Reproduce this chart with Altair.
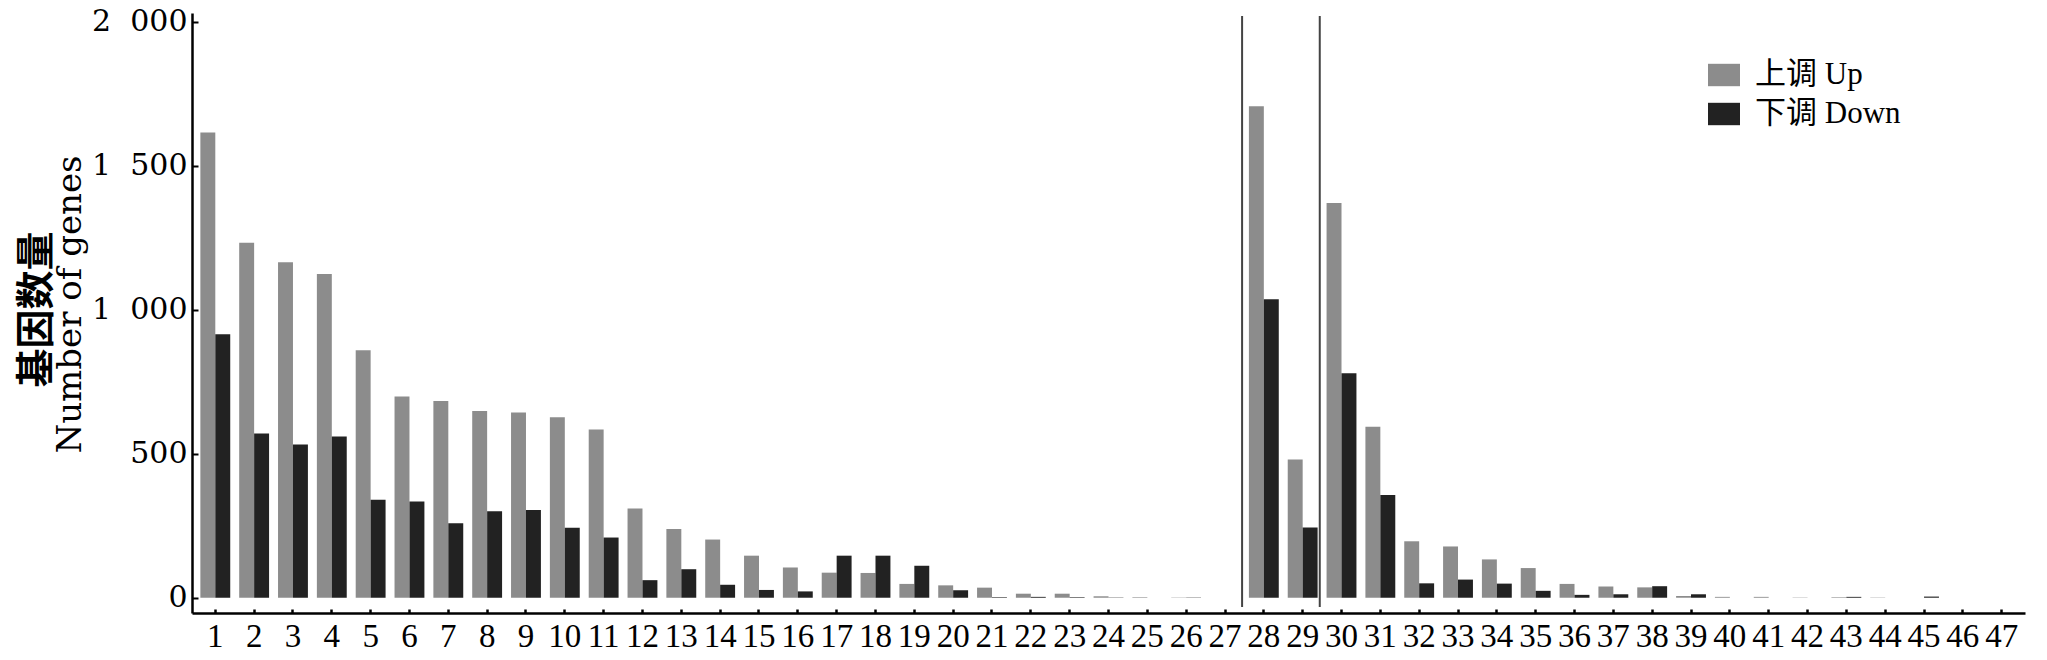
import altair as alt
import pandas as pd

categories = list(range(1, 48))
up_values = [1615, 1232, 1165, 1124, 859, 699, 683, 648, 643, 627,
             584, 310, 239, 202, 146, 105, 87, 86, 48, 43,
             35, 14, 14, 5, 2, 1, 0,
             1706, 480, 1370, 594, 196, 178, 133, 103, 48, 39,
             36, 6, 3, 3, 1, 2, 1, 0, 0, 0]
down_values = [915, 570, 532, 560, 340, 334, 259, 300, 305, 243,
               209, 61, 99, 45, 27, 22, 146, 146, 111, 26,
               2, 3, 2, 1, 0, 1, 0,
               1036, 244, 779, 357, 50, 63, 49, 24, 10, 12,
               40, 12, 0, 0, 0, 3, 0, 4, 0, 0]
series_names = ["上调 Up", "下调 Down"]
series_colors = ["#8c8c8c", "#222222"]
separator_after = [27, 29]
y_ticks = [0, 500, 1000, 1500, 2000]

rows = []
for c, u, d in zip(categories, up_values, down_values):
    rows.append({"cat": c, "series": series_names[0], "value": u})
    rows.append({"cat": c, "series": series_names[1], "value": d})
df = pd.DataFrame(rows)
sep_df = pd.DataFrame({"cat": separator_after})

W, H = 1833, 600
SP = "\u00a0\u00a0"

x_font = "'Liberation Serif', serif"
legend_font = "'Liberation Serif', 'Noto Sans CJK SC', serif"

bars = alt.Chart(df).mark_bar().encode(
    x=alt.X("cat:O",
            scale=alt.Scale(paddingInner=0, paddingOuter=0.1),
            axis=alt.Axis(title=None, labelAngle=0, ticks=False, tickSize=0,
                          domainColor="black", domainWidth=2.5,
                          labelFont=x_font, labelFontSize=33, labelPadding=7,
                          labelColor="black")),
    xOffset=alt.XOffset("series:N", sort=series_names,
                        scale=alt.Scale(paddingInner=0, paddingOuter=0.3)),
    y=alt.Y("value:Q",
            scale=alt.Scale(domain=[-53, 2030], nice=False),
            axis=alt.Axis(values=y_ticks, grid=False, ticks=False, tickSize=0,
                          domainColor="black", domainWidth=2.5,
                          labelFont="DejaVu Serif", labelFontSize=30, labelColor="black",
                          labelPadding=5,
                          labelExpr=f"datum.value >= 1000 ? floor(datum.value/1000) + '{SP}' + format(datum.value % 1000, '03d') : datum.label",
                          title="Number of genes", titleFont="DejaVu Serif",
                          titleFontSize=34, titleFontWeight="normal", titleColor="black",
                          titleAngle=270, titleX=-122, titleY=291,
                          titleAlign="center", titleBaseline="middle")),
    y2=alt.datum(0),
    color=alt.Color("series:N", sort=series_names,
                    scale=alt.Scale(domain=series_names, range=series_colors),
                    legend=alt.Legend(title=None, orient="none", legendX=1516, legendY=46,
                                      symbolType="M-1,-0.7L1,-0.7L1,0.7L-1,0.7Z",
                                      symbolSize=1024, symbolStrokeWidth=0,
                                      labelFont=legend_font, labelFontSize=31, labelColor="black",
                                      labelOffset=15, rowPadding=8, padding=0)),
)

ghost = alt.Chart(df).mark_bar(opacity=0).encode(
    x=alt.X("cat:O",
            axis=alt.Axis(orient="top", offset=-H, labels=False, domain=False,
                          ticks=True, tickSize=4, tickWidth=2.5, tickColor="black",
                          title=None)),
    y=alt.Y("value:Q",
            axis=alt.Axis(orient="right", offset=-W, labels=False, domain=False,
                          ticks=True, tickSize=6, tickWidth=2, tickColor="black",
                          values=y_ticks, grid=False,
                          title="基因数量", titleFont="Noto Sans CJK SC",
                          titleFontSize=39, titleFontWeight="bold", titleColor="black",
                          titleAngle=270, titleX=-156, titleY=296,
                          titleAlign="center", titleBaseline="middle")),
)

rules = alt.Chart(sep_df).mark_rule(color="#444444", strokeWidth=2).encode(
    x=alt.X("cat:O", bandPosition=0.94, axis=None),
    y=alt.datum(2020, axis=None),
    y2=alt.datum(-32),
)

chart = alt.layer(bars, ghost, rules).resolve_axis(
    x="independent", y="independent"
).properties(
    width=W, height=H,
    autosize=alt.AutoSizeParams(type="none"),
    padding={"left": 184, "top": 5, "right": 14, "bottom": 43},
).configure_view(stroke=None)

chart.save("out.html", embed_options={"renderer": "svg", "actions": False})
